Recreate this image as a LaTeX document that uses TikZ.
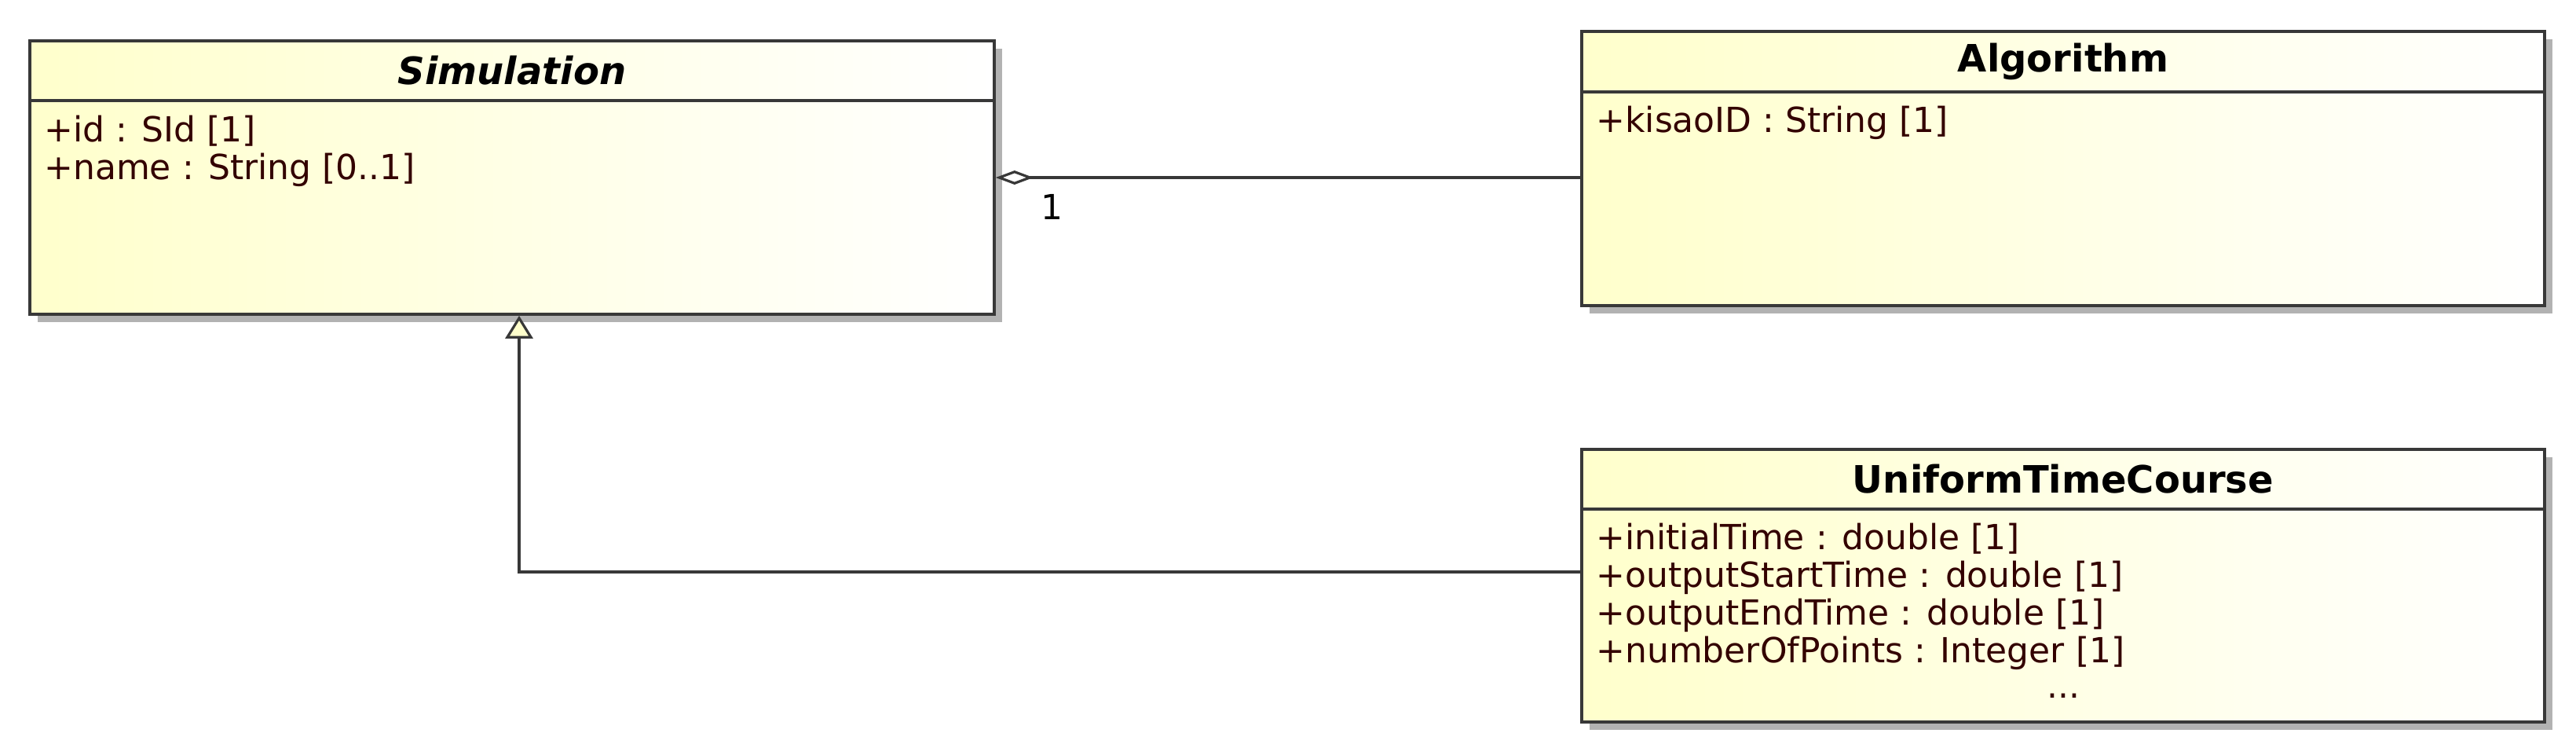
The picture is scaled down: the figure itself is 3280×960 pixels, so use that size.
\documentclass[tikz,border=0pt]{standalone}
\usepackage{fontspec}
\setmainfont{DejaVu Sans}
\usetikzlibrary{arrows.meta,shadows}

\definecolor{umlyellow}{RGB}{255,255,204}
\definecolor{umlborder}{RGB}{56,56,56}
\definecolor{umlshadow}{RGB}{178,178,178}
\definecolor{attrcolor}{RGB}{51,0,0}

\tikzset{
	umlclass/.style={rectangle, draw=umlborder, line width=1.8pt,
		left color=umlyellow, right color=white,
		drop shadow={shadow xshift=5pt, shadow yshift=-5pt, fill=umlshadow, opacity=1}},
	classname/.style={font=\fontsize{24}{28}\selectfont\bfseries, text=black},
	attr/.style={font=\fontsize{22}{26}\selectfont, text=attrcolor, anchor=base west, inner sep=0pt},
	divider/.style={draw=umlborder, line width=1.8pt},
	umlline/.style={draw=umlborder, line width=1.6pt},
}

\begin{document}
\begin{tikzpicture}[x=0.5pt, y=-0.5pt]

	\useasboundingbox (0,0) rectangle (3280,960);

	% classes
	\node[umlclass, minimum width=614pt, minimum height=174pt] (sim) at (652,226)    {};
	\node[umlclass, minimum width=613pt, minimum height=174.5pt] (alg) at (2627,214.5) {};
	\node[umlclass, minimum width=613pt, minimum height=173.5pt] (utc) at (2627,745.5) {};

	% compartments
	\draw[divider] (sim.west |- 0,128) -- (sim.east |- 0,128);
	\draw[divider] (alg.west |- 0,117) -- (alg.east |- 0,117);
	\draw[divider] (utc.west |- 0,648) -- (utc.east |- 0,648);

	% class names
	\node[classname] (simname) at (sim.north |- 0,90)  {\itshape Simulation};
	\node[classname] (algname) at (alg.north |- 0,78)  {Algorithm};
	\node[classname] (utcname) at (utc.north |- 0,610) {UniformTimeCourse};

	% attributes
	\node[attr] (simid)   at (56,180)   {+id : SId [1]};
	\node[attr] (simnm)   at (56,228)   {+name : String [0..1]};
	\node[attr] (algkid)  at (2032,168) {+kisaoID : String [1]};
	\node[attr] (utcinit) at (2032,699) {+initialTime : double [1]};
	\node[attr] (utcost)  at (2032,747) {+outputStartTime : double [1]};
	\node[attr] (utcoet)  at (2032,795) {+outputEndTime : double [1]};
	\node[attr] (utcnop)  at (2032,843) {+numberOfPoints : Integer [1]};
	\node[attr, anchor=base] (utcdots) at (utc.north |- 0,888) {...};

	% aggregation
	\draw[umlline, {Diamond[open, length=24pt, width=9pt]}-] (sim.east) -- (sim.east -| alg.west);
	\node[font=\fontsize{22}{26}\selectfont] (mult1) at (1339,263) {1};

	% generalization
	\coordinate (bend) at (661,728);
	\draw[umlline, -{Triangle[length=14.5pt, width=17.5pt, fill=umlyellow]}] (utc.west |- bend) -- (bend) -- (bend |- sim.south);

\end{tikzpicture}
\end{document}
